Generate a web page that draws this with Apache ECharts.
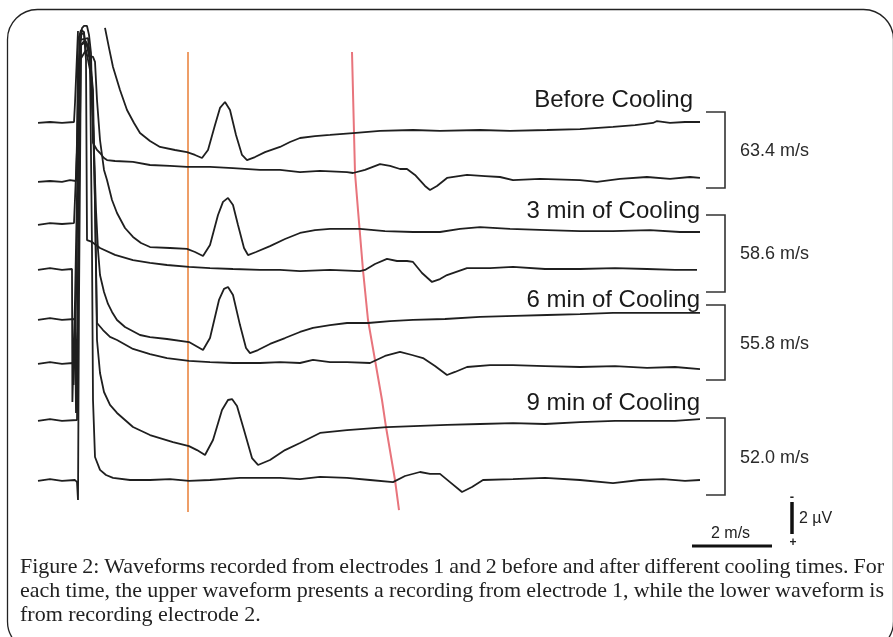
<!DOCTYPE html>
<html>
<head>
<meta charset="utf-8">
<script src="https://cdn.jsdelivr.net/npm/echarts@6/dist/echarts.min.js"></script>
<style>
  html, body { margin: 0; padding: 0; background: #fff; }
  #chart { width: 893px; height: 637px; }
</style>
</head>
<body>
<div id="chart"></div>
<script>
// time in ms after stimulus, deflection in µV (negative = up, like the scale bar)
const beforeE1 = [[-1.05,0.06],[-0.75,0],[-0.45,0.06],[-0.15,0],[-0.125,-1.19],[-0.075,-1.19],[-0.05,-5.69],null,[0.625,-5.88],[0.725,-4.63],[0.825,-3.44],[1.0,-2.0],[1.175,-0.75],[1.35,0.06],[1.5,0.69],[1.75,1.19],[2.0,1.56],[2.375,1.75],[2.675,1.88],[2.875,2.06],[3.05,2.25],[3.2,1.75],[3.375,0.19],[3.5,-0.88],[3.625,-1.25],[3.75,-0.75],[3.9,0.81],[4.05,2.06],[4.175,2.38],[4.375,2.19],[4.625,1.88],[5.0,1.56],[5.25,1.25],[5.5,1.0],[5.875,0.88],[6.25,0.81],[6.825,0.69],[7.5,0.56],[8.325,0.5],[9.0,0.56],[10.0,0.5],[10.75,0.56],[11.675,0.5],[12.5,0.44],[13.325,0.31],[13.875,0.19],[14.325,0.06],[14.425,-0.06],[14.75,0.06],[15.125,0],[15.5,0]];
const beforeE2 = [[-1.05,0.06],[-0.75,0],[-0.45,0.06],[-0.25,-0.06],[-0.1,0],[-0.025,-7.56],[0.05,-9.56],[0.1,-9.69],[0.175,-9.69],[0.225,-9.13],[0.275,-8.0],[0.325,-2.38],[0.425,-1.94],[0.5,-1.75],[0.6,-1.44],[0.675,-1.31],[0.875,-1.25],[1.325,-1.19],[1.75,-1.0],[2.25,-0.94],[2.675,-0.88],[3.25,-0.88],[3.825,-0.81],[4.5,-0.69],[5.0,-0.69],[5.5,-0.56],[6.0,-0.63],[6.675,-0.56],[6.825,-0.5],[7.125,-0.69],[7.5,-1.06],[7.75,-0.94],[8.0,-0.75],[8.175,-0.75],[8.375,-0.38],[8.625,0.31],[8.75,0.56],[8.925,0.31],[9.175,-0.19],[9.675,-0.38],[10.125,-0.31],[10.5,-0.25],[10.825,-0.06],[11.5,-0.13],[12.5,-0.06],[12.925,0.06],[13.5,-0.13],[14.175,-0.25],[14.75,-0.13],[15.25,-0.25],[15.5,-0.19]];
const cool3E1 = [[-1.05,0.06],[-0.75,-0.06],[-0.45,0],[-0.15,-0.06],[-0.1,0],[-0.075,-4.63],[-0.05,-11.5],[0.025,-12.13],[0.1,-12.0],[0.15,-10.56],[0.325,-10.44],[0.375,-10.13],[0.425,-7.75],[0.5,-5.25],[0.6,-3.38],[0.675,-2.75],[0.8,-1.5],[0.925,-0.69],[1.125,0.25],[1.325,0.81],[1.525,1.19],[1.75,1.44],[2.25,1.5],[2.675,1.56],[2.875,1.75],[3.075,2.0],[3.25,1.31],[3.45,-0.56],[3.575,-1.38],[3.7,-1.63],[3.825,-1.19],[3.95,0.06],[4.1,1.5],[4.2,1.94],[4.4,1.75],[4.75,1.38],[5.125,0.94],[5.5,0.56],[5.875,0.38],[6.25,0.31],[7.0,0.31],[7.625,0.44],[8.325,0.5],[9.0,0.5],[9.5,0.31],[10.0,0.19],[10.75,0.31],[11.675,0.38],[12.5,0.44],[13.325,0.44],[14.25,0.38],[15.0,0.5],[15.5,0.5]];
const cool3E2 = [[-1.05,0.06],[-0.75,-0.06],[-0.45,0.06],[-0.2,0],[-0.19,8.31],[-0.15,8.31],[-0.125,1.94],[0,-14.63],[0.1,-14.75],[0.15,-13.06],[0.175,-1.81],[0.3,-1.69],[0.4,-1.5],[0.5,-1.31],[0.875,-0.88],[1.325,-0.56],[1.75,-0.38],[2.175,-0.25],[2.725,-0.13],[3.25,-0.06],[3.825,0],[4.5,0.06],[5.0,0.06],[5.5,0.13],[6.25,0.06],[7.0,0.13],[7.125,0.06],[7.375,-0.31],[7.675,-0.63],[7.925,-0.5],[8.175,-0.5],[8.325,-0.44],[8.55,0.25],[8.8,0.81],[9.0,0.63],[9.175,0.38],[9.675,-0.06],[10.25,-0.06],[10.825,-0.13],[11.625,0],[12.5,0],[13.375,-0.06],[14.175,0],[14.875,0.06],[15.425,0.06]];
const cool6E1 = [[-1.05,0.06],[-0.75,-0.06],[-0.45,0.06],[-0.125,0],[-0.1,5.88],[-0.05,5.88],[-0.025,-7.44],[0.025,-17.13],[0.125,-17.44],[0.225,-16.94],[0.325,-12.44],[0.4,-6.81],[0.45,-4.31],[0.5,-2.75],[0.6,-1.69],[0.7,-0.94],[0.8,-0.44],[0.925,0.06],[1.125,0.5],[1.5,1.0],[1.75,1.13],[2.175,1.25],[2.725,1.44],[2.9,1.69],[3.075,1.94],[3.25,1.19],[3.475,-1.19],[3.6,-1.88],[3.7,-2.0],[3.825,-1.5],[4.0,0.38],[4.15,1.81],[4.25,2.13],[4.45,1.94],[4.75,1.56],[5.125,1.19],[5.5,0.81],[5.825,0.56],[6.25,0.38],[6.675,0.25],[7.2,0.25],[7.75,0.13],[8.325,0.06],[9.125,0],[10.0,-0.13],[10.875,-0.19],[11.675,-0.25],[12.5,-0.31],[13.325,-0.38],[14.5,-0.38],[15.5,-0.38]];
const cool6E2 = [[-1.05,0.06],[-0.75,-0.06],[-0.45,0.06],[-0.175,0],[-0.16,1.38],[-0.125,1.38],[-0.1,-3.94],[0,-20.19],[0.2,-20.31],[0.325,-17.06],[0.425,-2.5],[0.575,-2.06],[0.75,-1.63],[0.925,-1.44],[1.325,-0.88],[1.75,-0.56],[2.175,-0.31],[2.725,-0.13],[3.25,-0.06],[3.825,0],[4.5,0],[5.0,-0.06],[5.5,0],[5.825,-0.19],[6.25,-0.06],[6.675,-0.06],[7.25,0],[7.625,-0.44],[8.0,-0.69],[8.3,-0.5],[8.575,-0.31],[8.875,0.19],[9.175,0.75],[9.375,0.56],[9.675,0.25],[10.25,0.13],[10.825,0.13],[11.625,0.19],[12.5,0.25],[13.375,0.19],[14.175,0.31],[14.875,0.25],[15.5,0.38]];
const cool9E1 = [[-1.05,0.06],[-0.75,-0.06],[-0.45,0.06],[-0.075,0],[-0.05,-7.5],[0,-22.5],[0.15,-23.13],[0.3,-21.25],[0.375,-13.75],[0.425,-5.0],[0.5,-2.94],[0.6,-1.75],[0.75,-0.94],[0.925,-0.44],[1.325,0.44],[1.75,0.94],[2.325,1.38],[2.725,1.63],[2.925,1.88],[3.125,2.19],[3.325,1.25],[3.55,-0.63],[3.7,-1.25],[3.8,-1.31],[3.925,-0.88],[4.1,0.63],[4.3,2.38],[4.45,2.81],[4.75,2.5],[5.125,1.88],[5.5,1.44],[6.0,0.81],[6.675,0.63],[7.675,0.44],[9.175,0.31],[10.0,0.25],[10.825,0.19],[11.625,0.25],[12.5,0.13],[13.375,0.06],[14.175,0.06],[14.875,0.06],[15.5,-0.06]];
const cool9E2 = [[-1.05,0.06],[-0.75,-0.06],[-0.45,0.06],[-0.125,0],[-0.075,0.13],[-0.05,1.25],[-0.025,-11.25],[0.025,-27.19],[0.15,-27.38],[0.25,-26.25],[0.3,-14.38],[0.325,-5.0],[0.375,-1.44],[0.5,-0.63],[0.65,-0.31],[0.825,-0.13],[1.25,0],[1.75,0],[2.25,-0.06],[2.725,0.06],[3.25,0],[4.0,-0.13],[5.0,-0.13],[5.5,-0.06],[6.0,-0.19],[6.675,-0.13],[7.25,0],[7.825,0.13],[8.125,-0.25],[8.5,-0.5],[8.75,-0.38],[9.0,-0.38],[9.25,0.13],[9.55,0.75],[9.8,0.44],[10.075,0],[10.825,-0.06],[11.625,-0.13],[12.5,0],[13.325,0.19],[14.0,0],[14.575,-0.06],[15.125,0.06],[15.5,0]];

// vertical stacking of the 8 traces (µV below the top)
const baselines = [7.625, 11.3125, 14, 16.8125, 19.9375, 22.6875, 26.25, 30];

// marker lines: stimulus-side reference and electrode-2 onset
const refLineT = [2.7, 2.7];
const refLineV = [3.25, 32];
const onsetT = [6.8, 6.875, 6.95, 7.075, 7.2, 7.375, 7.55, 7.65, 7.875, 7.975];
const onsetV = [3.25, 10.81, 13.13, 16.88, 20.0, 22.5, 25.0, 26.69, 30.0, 31.88];

// scale bars: 2 ms and 2 µV
const barMsT = [15.3, 17.3];
const barMsV = 34.125;
const barUvT = 17.8;
const barUvV = [31.375, 33.375];

const coolingLabels = ['Before Cooling', '3 min of Cooling', '6 min of Cooling', '9 min of Cooling'];
const velocities = ['63.4 m/s', '58.6 m/s', '55.8 m/s', '52.0 m/s'];

const captionLines = [
  'Figure 2: Waveforms recorded from electrodes 1 and 2 before and after different cooling times. For',
  'each time, the upper waveform presents a recording from electrode 1, while the lower waveform is',
  'from recording electrode 2.'
];

const traces = [beforeE1, beforeE2, cool3E1, cool3E2, cool6E1, cool6E2, cool9E1, cool9E2];

const chart = echarts.init(document.getElementById('chart'));

const traceSeries = traces.map((tr, i) => ({
  type: 'line',
  data: tr.map(p => (p ? [p[0], baselines[i] + p[1]] : [0.3, null])),
  showSymbol: false,
  connectNulls: false,
  silent: true,
  lineStyle: { color: '#1f1f1f', width: 1.8 },
  z: 3
}));

const otherSeries = [
  {
    type: 'line',
    data: refLineT.map((t, i) => [t, refLineV[i]]),
    showSymbol: false,
    lineStyle: { color: '#ee9e68', width: 2 },
    z: 2
  },
  {
    type: 'line',
    data: onsetT.map((t, i) => [t, onsetV[i]]),
    showSymbol: false,
    lineStyle: { color: '#e8747c', width: 2 },
    z: 2
  },
  {
    type: 'line',
    data: barMsT.map(t => [t, barMsV]),
    showSymbol: false,
    lineStyle: { color: '#111', width: 3 }
  },
  {
    type: 'line',
    data: barUvV.map(v => [barUvT, v]),
    showSymbol: false,
    lineStyle: { color: '#111', width: 3.5 }
  }
];

// labels & brackets (annotation layout)
const labelY = [100, 211, 300, 403];
const labelX = [693, 700, 700, 700];
const bracketTop = [112, 215, 305, 418];
const bracketBot = [188, 292, 380, 495];
const velY = [151, 254, 344, 458];

const graphics = [
  {
    type: 'rect',
    shape: { x: 7.5, y: 9.5, width: 886, height: 642, r: 30 },
    style: { fill: 'none', stroke: '#222', lineWidth: 1.3 },
    z: 1
  }
];

coolingLabels.forEach((txt, i) => {
  graphics.push({
    type: 'text', x: labelX[i], y: labelY[i],
    style: { text: txt, font: '24px "Liberation Sans", Arial, sans-serif', fill: '#1a1a1a', textAlign: 'right', textVerticalAlign: 'middle' }
  });
  graphics.push({
    type: 'polyline',
    shape: { points: [[706, bracketTop[i]], [725, bracketTop[i]], [725, bracketBot[i]], [706, bracketBot[i]]] },
    style: { stroke: '#333', lineWidth: 1.6, fill: 'none' }
  });
  graphics.push({
    type: 'text', x: 740, y: velY[i],
    style: { text: velocities[i], font: '18px "Liberation Sans", Arial, sans-serif', fill: '#2a2a2a', textVerticalAlign: 'middle' }
  });
});

graphics.push(
  { type: 'text', x: 711, y: 534, style: { text: '2 m/s', font: '16px "Liberation Sans", Arial, sans-serif', fill: '#222', textVerticalAlign: 'middle' } },
  { type: 'text', x: 799, y: 519, style: { text: '2 µV', font: '16px "Liberation Sans", Arial, sans-serif', fill: '#222', textVerticalAlign: 'middle' } },
  { type: 'text', x: 792, y: 497, style: { text: '-', font: 'bold 13px "Liberation Sans", Arial, sans-serif', fill: '#222', textAlign: 'center', textVerticalAlign: 'middle' } },
  { type: 'text', x: 793, y: 543, style: { text: '+', font: 'bold 12px "Liberation Sans", Arial, sans-serif', fill: '#222', textAlign: 'center', textVerticalAlign: 'middle' } }
);

// justified caption
const captionFont = '22px "Liberation Serif", "Times New Roman", serif';
const captionLeft = 20;
const captionRight = 884;
const captionY = [567, 591, 615];
const measure = document.createElement('canvas').getContext('2d');
measure.font = captionFont;
captionLines.forEach((line, li) => {
  const words = line.split(' ');
  const widths = words.map(w => measure.measureText(w).width);
  const total = widths.reduce((a, b) => a + b, 0);
  const justify = li < captionLines.length - 1;
  const gap = justify ? (captionRight - captionLeft - total) / (words.length - 1) : measure.measureText(' ').width;
  let x = captionLeft;
  words.forEach((w, i) => {
    graphics.push({
      type: 'text', x: x, y: captionY[li],
      style: { text: w, font: captionFont, fill: '#222', textVerticalAlign: 'middle' }
    });
    x += widths[i] + gap;
  });
});

chart.setOption({
  animation: false,
  grid: { left: 0, right: 0, top: 0, bottom: 0 },
  xAxis: { type: 'value', min: -2, max: 20.325, show: false },
  yAxis: { type: 'value', inverse: true, min: 0, max: 39.8125, show: false },
  series: traceSeries.concat(otherSeries),
  graphic: graphics
});

window.onresize = function () {
  chart.resize();
};
</script>
</body>
</html>
